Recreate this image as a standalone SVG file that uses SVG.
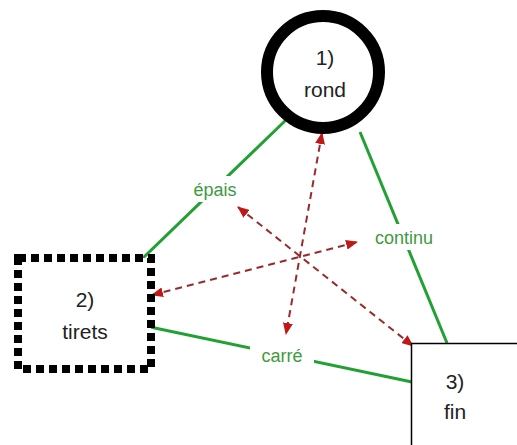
<svg xmlns="http://www.w3.org/2000/svg" width="517" height="445" viewBox="0 0 517 445">
<style>
.lbl{font-family:"Liberation Sans",Arial,sans-serif;font-size:18px;fill:#3d9a3d;text-anchor:middle}
.txt{font-family:"Liberation Sans",Arial,sans-serif;font-size:21px;fill:#222;text-anchor:middle}
.g{stroke:#22a033;stroke-width:3;fill:none}
.r{stroke:#992a2a;stroke-width:2;stroke-dasharray:7,5;fill:none;marker-start:url(#ah);marker-end:url(#ah)}
</style>
<defs>
<marker id="ah" viewBox="0 0 12 10" refX="11" refY="5" markerWidth="12" markerHeight="10" markerUnits="userSpaceOnUse" orient="auto-start-reverse">
<path d="M0,0 L12,5 L0,10 z" fill="#c01818"/>
</marker>
</defs>
<rect width="517" height="445" fill="#fff"/>
<g id="connectors">
<line class="g" x1="288" y1="118" x2="143" y2="258"/>
<line class="g" x1="360" y1="132" x2="447" y2="343"/>
<line class="g" x1="150" y1="327" x2="412" y2="382"/>
<line class="r" x1="322" y1="133" x2="286" y2="334"/>
<line class="r" x1="238" y1="207" x2="413" y2="346"/>
<line class="r" x1="152" y1="295" x2="357" y2="242"/>
<g id="label-epais"><rect x="182" y="176" width="66" height="26" fill="#fff"/><text class="lbl" x="215" y="196">épais</text></g>
<g id="label-continu"><rect x="364" y="224" width="80" height="26" fill="#fff"/><text class="lbl" x="404" y="244">continu</text></g>
<g id="label-carre"><rect x="250" y="343" width="64" height="24" fill="#fff"/><text class="lbl" x="282" y="362">carré</text></g>
</g>
<g id="node-rond">
<circle cx="323" cy="72" r="56" fill="#fff" stroke="#000" stroke-width="12"/>
<text class="txt" x="325" y="65">1)</text>
<text class="txt" x="325" y="97">rond</text>
</g>
<g id="node-tirets">
<rect x="18" y="258" width="133" height="111" fill="#fff" stroke="#000" stroke-width="8" stroke-dasharray="8,5"/>
<text class="txt" x="85" y="307">2)</text>
<text class="txt" x="85" y="339">tirets</text>
</g>
<g id="node-fin">
<rect x="411.5" y="343.5" width="120" height="120" fill="#fff" stroke="#000" stroke-width="1.5"/>
<text class="txt" x="455" y="389">3)</text>
<text class="txt" x="455" y="419">fin</text>
</g>
</svg>
